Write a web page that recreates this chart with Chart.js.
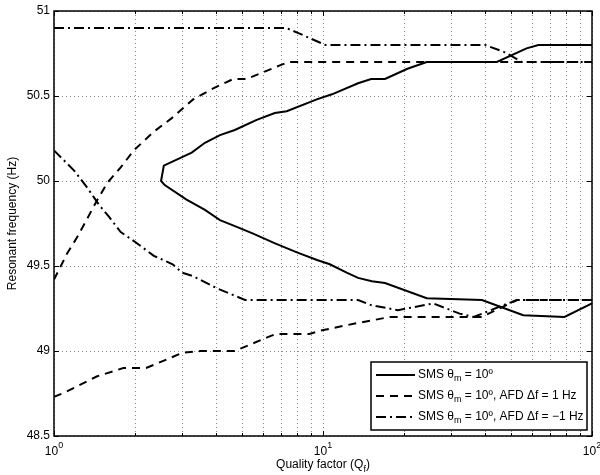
<!DOCTYPE html>
<html>
<head>
<meta charset="utf-8">
<script src="https://cdn.jsdelivr.net/npm/chart.js@4.4.1/dist/chart.umd.min.js"></script>
<style>
html,body{margin:0;padding:0;background:#fff;}
#wrap{width:600px;height:475px;}
</style>
</head>
<body>
<div id="wrap"><canvas id="chart" width="600" height="475"></canvas></div>
<script>
// ════════════════════════════════
// data
// ════════════════════════════════
const X_TICKS = [1, 10, 100];
const X_TICK_EXP = ['0', '1', '2'];
const X_MINOR = [2,3,4,5,6,7,8,9,20,30,40,50,60,70,80,90];
const Y_TICKS = [48.5, 49, 49.5, 50, 50.5, 51];
const Y_LABELS = ['48.5', '49', '49.5', '50', '50.5', '51'];

// SMS θm = 10º  (one path: lower branch from Q=100 to the nose, then upper branch)
const smsQ = [100, 79, 55.5, 39, 24.3, 17.0, 15.2, 13.5, 12.3, 10.6, 9.5, 8.0, 6.6, 5.5, 4.78, 4.14, 3.64, 3.11, 2.58, 2.5,
              2.56, 3.25, 3.64, 4.14, 4.7, 5.67, 6.62, 7.33, 9.48, 10.8, 13.5, 15.1, 17.0, 20.6, 24.3, 44.3, 57.1, 63.2, 100];
const smsF = [49.28, 49.20, 49.21, 49.30, 49.31, 49.40, 49.41, 49.43, 49.46, 49.51, 49.535, 49.58, 49.635, 49.69, 49.73, 49.77, 49.83, 49.89, 49.976, 50.0,
              50.09, 50.167, 50.225, 50.27, 50.30, 50.36, 50.40, 50.41, 50.48, 50.51, 50.575, 50.60, 50.60, 50.66, 50.70, 50.70, 50.78, 50.80, 50.80];

// SMS + AFD Δf = 1 Hz (dashed)
const afdUpQ = [1, 1.12, 1.22, 1.45, 1.58, 1.77, 1.98, 2.35, 2.74, 3.29, 3.91, 4.64, 5.2, 6.91, 7.45, 100];
const afdUpF = [49.42, 49.575, 49.67, 49.89, 49.99, 50.08, 50.18, 50.29, 50.37, 50.48, 50.545, 50.60, 50.60, 50.68, 50.70, 50.70];
const afdLowQ = [1, 1.11, 1.44, 1.81, 2.2, 2.62, 3.0, 3.5, 4.7, 6.2, 6.67, 8.9, 9.8, 13.0, 17.7, 38.9, 52.6, 100];
const afdLowF = [48.73, 48.76, 48.85, 48.90, 48.90, 48.95, 48.99, 49.00, 49.00, 49.08, 49.10, 49.10, 49.12, 49.16, 49.20, 49.20, 49.30, 49.30];

// SMS + AFD Δf = -1 Hz (dash-dot)
const afdNegUpQ = [1, 7.3, 8.1, 10.2, 40, 47, 55, 100];
const afdNegUpF = [50.90, 50.90, 50.87, 50.80, 50.80, 50.76, 50.70, 50.70];
const afdNegLowQ = [1, 1.19, 1.33, 1.47, 1.60, 1.77, 2.01, 2.35, 2.76, 3.0, 3.29, 4.02, 5.13, 13.5, 15.1, 19.0, 25.7, 32.2, 36.3, 45.2, 52.6, 100];
const afdNegLowF = [50.18, 50.06, 49.96, 49.86, 49.79, 49.70, 49.64, 49.56, 49.51, 49.46, 49.44, 49.37, 49.30, 49.30, 49.27, 49.24, 49.28, 49.22, 49.20, 49.26, 49.30, 49.30];

const LEGEND = [
  [['SMS θ'], ['m', 'sub'], [' = 10º']],
  [['SMS θ'], ['m', 'sub'], [' = 10º, AFD Δf = 1 Hz']],
  [['SMS θ'], ['m', 'sub'], [' = 10º, AFD Δf = −1 Hz']]
];

const SOLID = [];
const DASH = [8, 6];
const DASHDOT = [10, 4, 2, 4];
const FONT = '"Liberation Sans", Arial, Helvetica, sans-serif';

const el = (id) => document.getElementById(id);
const pts = (q, f) => q.map((x, i) => ({ x: x, y: f[i] }));

function line(data, dash){
  return { data: data, borderColor: '#000', borderWidth: 2, borderDash: dash,
           showLine: true, pointRadius: 0, fill: false, tension: 0 };
}

// ════════════════════════════════
// text with sub / superscripts
// ════════════════════════════════
function rich(ctx, parts, x, y, align, size){
  const big = size + 'px ' + FONT;
  const small = Math.round(size * 0.75) + 'px ' + FONT;
  let w = 0;
  parts.forEach(p => { ctx.font = p[1] ? small : big; w += ctx.measureText(p[0]).width; });
  let cx = align === 'center' ? x - w / 2 : x;
  ctx.textAlign = 'left';
  parts.forEach(p => {
    ctx.font = p[1] ? small : big;
    const dy = p[1] === 'sub' ? 4 : (p[1] === 'sup' ? -7 : 0);
    ctx.fillText(p[0], cx, y + dy);
    cx += ctx.measureText(p[0]).width;
  });
}

// ════════════════════════════════
// matlab style frame
// ════════════════════════════════
const frame = {
  id: 'frame',
  beforeDatasetsDraw(chart){
    const ctx = chart.ctx, a = chart.chartArea;
    const xs = chart.scales.x, ys = chart.scales.y;
    ctx.save();
    ctx.strokeStyle = '#8a8a8a';
    ctx.lineWidth = 1;
    ctx.setLineDash([1, 3]);
    X_TICKS.concat(X_MINOR).forEach(v => {
      const px = Math.round(xs.getPixelForValue(v)) + 0.5;
      ctx.beginPath(); ctx.moveTo(px, a.top); ctx.lineTo(px, a.bottom); ctx.stroke();
    });
    Y_TICKS.forEach(v => {
      const py = Math.round(ys.getPixelForValue(v)) + 0.5;
      ctx.beginPath(); ctx.moveTo(a.left, py); ctx.lineTo(a.right, py); ctx.stroke();
    });
    ctx.restore();
  },
  afterDraw(chart){
    const ctx = chart.ctx, a = chart.chartArea;
    const xs = chart.scales.x, ys = chart.scales.y;
    ctx.save();
    ctx.strokeStyle = '#000';
    ctx.fillStyle = '#000';
    ctx.setLineDash([]);
    ctx.lineWidth = 1.5;
    ctx.strokeRect(a.left, a.top, a.right - a.left, a.bottom - a.top);

    // ticks
    ctx.lineWidth = 1;
    ctx.beginPath();
    Y_TICKS.forEach(v => {
      const py = Math.round(ys.getPixelForValue(v)) + 0.5;
      ctx.moveTo(a.left, py); ctx.lineTo(a.left + 5, py);
      ctx.moveTo(a.right, py); ctx.lineTo(a.right - 5, py);
    });
    X_TICKS.forEach(v => {
      const px = Math.round(xs.getPixelForValue(v)) + 0.5;
      ctx.moveTo(px, a.bottom); ctx.lineTo(px, a.bottom - 5);
      ctx.moveTo(px, a.top); ctx.lineTo(px, a.top + 5);
    });
    X_MINOR.forEach(v => {
      const px = Math.round(xs.getPixelForValue(v)) + 0.5;
      ctx.moveTo(px, a.bottom); ctx.lineTo(px, a.bottom - 3);
      ctx.moveTo(px, a.top); ctx.lineTo(px, a.top + 3);
    });
    ctx.stroke();

    // y tick labels
    ctx.font = '12px ' + FONT;
    ctx.textAlign = 'right';
    ctx.textBaseline = 'middle';
    Y_TICKS.forEach((v, i) => ctx.fillText(Y_LABELS[i], a.left - 4, ys.getPixelForValue(v)));

    // x tick labels
    ctx.textBaseline = 'alphabetic';
    X_TICKS.forEach((v, i) => rich(ctx, [['10'], [X_TICK_EXP[i], 'sup']], xs.getPixelForValue(v), 455, 'center', 12));

    // axis titles
    rich(ctx, [['Quality factor (Q'], ['f', 'sub'], [')']], (a.left + a.right) / 2, 468, 'center', 12);
    ctx.save();
    ctx.translate(13, (a.top + a.bottom) / 2);
    ctx.rotate(-Math.PI / 2);
    ctx.font = '12px ' + FONT;
    ctx.textAlign = 'center';
    ctx.textBaseline = 'middle';
    ctx.fillText('Resonant frequency (Hz)', 0, 0);
    ctx.restore();

    // legend
    const lx = 371, ly = 362, lw = 216, lh = 68;
    ctx.fillStyle = '#fff';
    ctx.fillRect(lx, ly, lw, lh);
    ctx.lineWidth = 1.5;
    ctx.strokeRect(lx, ly, lw, lh);
    ctx.fillStyle = '#000';
    const dashes = [SOLID, DASH, DASHDOT];
    LEGEND.forEach((parts, i) => {
      const yy = ly + 13 + i * 21;
      ctx.lineWidth = 2;
      ctx.setLineDash(dashes[i]);
      ctx.beginPath(); ctx.moveTo(376, yy); ctx.lineTo(415, yy); ctx.stroke();
      ctx.setLineDash([]);
      ctx.textBaseline = 'middle';
      rich(ctx, parts, 418, yy, 'left', 12);
    });
    ctx.restore();
  }
};

// ════════════════════════════════
// chart
// ════════════════════════════════
new Chart(el('chart').getContext('2d'), {
  type: 'scatter',
  data: {
    datasets: [
      line(pts(smsQ, smsF), SOLID),
      line(pts(afdUpQ, afdUpF), DASH),
      line(pts(afdLowQ, afdLowF), DASH),
      line(pts(afdNegUpQ, afdNegUpF), DASHDOT),
      line(pts(afdNegLowQ, afdNegLowF), DASHDOT)
    ]
  },
  options: {
    responsive: false,
    devicePixelRatio: 1,
    animation: false,
    events: [],
    layout: { padding: { top: 11, right: 8, left: 0, bottom: 0 } },
    plugins: { legend: { display: false }, tooltip: { enabled: false } },
    scales: {
      x: { type: 'logarithmic', min: 1, max: 100,
           grid: { display: false }, border: { display: false }, ticks: { display: false },
           afterFit(s){ s.height = 39; } },
      y: { type: 'linear', min: 48.5, max: 51,
           grid: { display: false }, border: { display: false }, ticks: { display: false },
           afterFit(s){ s.width = 54; } }
    }
  },
  plugins: [frame]
});
</script>
</body>
</html>
